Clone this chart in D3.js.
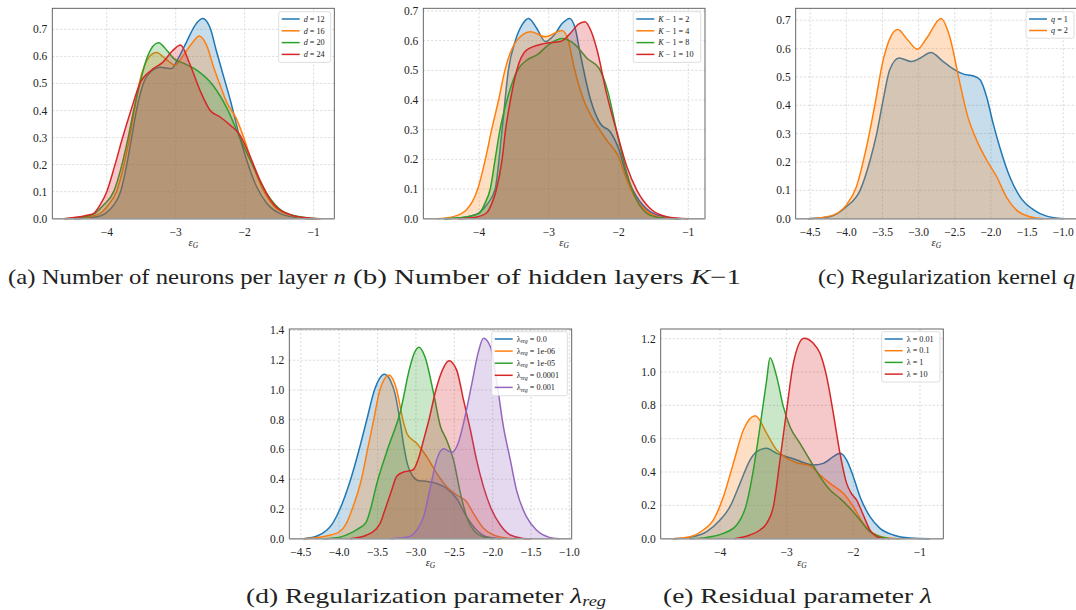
<!DOCTYPE html>
<html>
<head>
<meta charset="utf-8">
<script src="https://d3js.org/d3.v7.min.js"></script>
<style>
  body { margin: 0; background: #fff; }
  svg text { font-family: "Liberation Serif", "DejaVu Serif", serif; fill: #222; }
</style>
</head>
<body>
<svg width="1076" height="610" id="chart" font-family="Liberation Serif, DejaVu Serif, serif"></svg>
<script>
const colors = ["#1f77b4", "#ff7f0e", "#2ca02c", "#d62728", "#9467bd"];

// (a) neurons per layer
const a_labels = ["12", "16", "20", "24"];
const a_d12 = [[-4.48,0],[-4.3,0.003],[-4.1,0.01],[-4.02,0.02],[-3.9,0.05],[-3.80,0.1],[-3.71,0.2],[-3.64,0.3],[-3.57,0.4],[-3.47,0.5],[-3.33,0.55],[-3.23,0.56],[-3.06,0.555],[-2.97,0.59],[-2.85,0.65],[-2.72,0.715],[-2.61,0.74],[-2.5,0.705],[-2.41,0.62],[-2.31,0.53],[-2.21,0.44],[-2.07,0.30],[-2.0,0.24],[-1.83,0.12],[-1.68,0.057],[-1.44,0.014],[-1.2,0.003],[-1.0,0]];
const a_d16 = [[-4.55,0],[-4.3,0.005],[-4.1,0.02],[-3.98,0.05],[-3.86,0.1],[-3.75,0.2],[-3.67,0.3],[-3.60,0.4],[-3.53,0.5],[-3.38,0.6],[-3.28,0.615],[-3.12,0.585],[-3.01,0.568],[-2.9,0.6],[-2.76,0.65],[-2.66,0.676],[-2.55,0.64],[-2.45,0.56],[-2.35,0.49],[-2.26,0.43],[-2.12,0.37],[-2.0,0.29],[-1.87,0.19],[-1.73,0.106],[-1.54,0.038],[-1.29,0.01],[-1.05,0]];
const a_d20 = [[-4.6,0],[-4.35,0.006],[-4.17,0.02],[-4.05,0.05],[-3.90,0.1],[-3.78,0.2],[-3.69,0.3],[-3.61,0.4],[-3.52,0.5],[-3.41,0.6],[-3.25,0.651],[-3.12,0.62],[-3.03,0.593],[-2.89,0.575],[-2.7,0.55],[-2.45,0.49],[-2.26,0.41],[-2.07,0.30],[-1.87,0.19],[-1.68,0.094],[-1.44,0.026],[-1.2,0.007],[-0.95,0]];
const a_d24 = [[-4.62,0],[-4.45,0.005],[-4.3,0.012],[-4.19,0.02],[-4.10,0.05],[-4.0,0.1],[-3.88,0.2],[-3.77,0.3],[-3.65,0.4],[-3.52,0.5],[-3.35,0.55],[-3.18,0.58],[-3.05,0.62],[-2.93,0.642],[-2.8,0.575],[-2.65,0.476],[-2.5,0.40],[-2.36,0.377],[-2.21,0.346],[-2.07,0.31],[-1.92,0.23],[-1.78,0.143],[-1.59,0.057],[-1.35,0.016],[-1.05,0.002],[-0.9,0]];

// (b) hidden layers
const b_labels = ["2", "4", "8", "10"];
const b_k2 = [[-4.5,0],[-4.27,0.003],[-4.1,0.01],[-4.0,0.02],[-3.88,0.05],[-3.77,0.1],[-3.67,0.3],[-3.58,0.5],[-3.48,0.6],[-3.38,0.655],[-3.29,0.675],[-3.17,0.64],[-3.05,0.597],[-2.92,0.62],[-2.8,0.66],[-2.70,0.675],[-2.62,0.64],[-2.55,0.557],[-2.40,0.40],[-2.26,0.32],[-2.12,0.293],[-1.99,0.23],[-1.88,0.14],[-1.74,0.074],[-1.55,0.024],[-1.31,0.005],[-1.1,0]];
const b_k4 = [[-4.61,0],[-4.37,0.007],[-4.18,0.03],[-4.02,0.1],[-3.91,0.2],[-3.82,0.3],[-3.72,0.4],[-3.63,0.5],[-3.46,0.6],[-3.26,0.63],[-3.05,0.613],[-2.81,0.634],[-2.72,0.6],[-2.64,0.512],[-2.50,0.40],[-2.36,0.333],[-2.17,0.265],[-2.0,0.209],[-1.88,0.13],[-1.74,0.063],[-1.55,0.018],[-1.35,0.003],[-1.15,0]];
const b_k8 = [[-4.5,0],[-4.27,0.003],[-4.0,0.018],[-3.92,0.05],[-3.84,0.1],[-3.77,0.2],[-3.70,0.3],[-3.60,0.4],[-3.45,0.5],[-3.31,0.535],[-3.17,0.552],[-2.98,0.59],[-2.81,0.607],[-2.64,0.59],[-2.45,0.54],[-2.28,0.507],[-2.16,0.434],[-2.02,0.288],[-1.88,0.153],[-1.74,0.063],[-1.55,0.012],[-1.35,0.002],[-1.15,0]];
const b_k10 = [[-4.3,0],[-4.05,0.005],[-3.89,0.02],[-3.82,0.05],[-3.75,0.1],[-3.67,0.2],[-3.62,0.3],[-3.55,0.4],[-3.46,0.5],[-3.32,0.568],[-3.07,0.59],[-2.83,0.597],[-2.69,0.625],[-2.58,0.655],[-2.48,0.664],[-2.39,0.63],[-2.31,0.57],[-2.17,0.42],[-2.02,0.288],[-1.88,0.175],[-1.74,0.097],[-1.55,0.035],[-1.31,0.007],[-1.0,0]];

// (c) regularization kernel
const c_labels = ["1", "2"];
const c_q1 = [[-4.53,0],[-4.23,0.007],[-4.0,0.042],[-3.81,0.10],[-3.67,0.207],[-3.58,0.30],[-3.49,0.42],[-3.40,0.525],[-3.27,0.567],[-3.10,0.554],[-2.98,0.566],[-2.83,0.586],[-2.66,0.554],[-2.5,0.525],[-2.38,0.51],[-2.24,0.503],[-2.15,0.49],[-2.06,0.43],[-1.97,0.336],[-1.88,0.254],[-1.74,0.148],[-1.60,0.078],[-1.41,0.031],[-1.23,0.009],[-1.0,0]];
const c_q2 = [[-4.5,0],[-4.23,0.009],[-4.0,0.048],[-3.86,0.113],[-3.72,0.254],[-3.61,0.395],[-3.49,0.56],[-3.38,0.645],[-3.29,0.667],[-3.15,0.63],[-3.02,0.598],[-2.88,0.64],[-2.69,0.706],[-2.57,0.642],[-2.43,0.478],[-2.32,0.36],[-2.20,0.278],[-2.06,0.207],[-1.92,0.148],[-1.79,0.078],[-1.65,0.031],[-1.46,0.007],[-1.28,0]];

// (d) regularization parameter
const d_labels = ["0.0", "1e-06", "1e-05", "0.0001", "0.001"];
const d_0 = [[-4.46,0],[-4.28,0.02],[-4.09,0.1],[-3.99,0.2],[-3.85,0.4],[-3.74,0.6],[-3.64,0.8],[-3.54,1.0],[-3.47,1.08],[-3.41,1.105],[-3.33,1.06],[-3.27,0.97],[-3.21,0.8],[-3.15,0.6],[-3.11,0.5],[-3.04,0.42],[-2.96,0.39],[-2.85,0.385],[-2.72,0.37],[-2.60,0.339],[-2.47,0.27],[-2.34,0.148],[-2.21,0.058],[-2.08,0.013],[-1.9,0]];
const d_1e6 = [[-4.47,0],[-4.15,0.02],[-3.99,0.05],[-3.91,0.1],[-3.83,0.2],[-3.71,0.4],[-3.63,0.6],[-3.55,0.8],[-3.47,1.0],[-3.35,1.1],[-3.25,1.0],[-3.17,0.8],[-3.11,0.7],[-2.99,0.642],[-2.86,0.552],[-2.73,0.44],[-2.60,0.35],[-2.47,0.294],[-2.34,0.249],[-2.25,0.17],[-2.12,0.07],[-1.99,0.025],[-1.82,0.005],[-1.7,0]];
const d_1e5 = [[-4.2,0],[-3.99,0.01],[-3.86,0.036],[-3.76,0.065],[-3.65,0.11],[-3.58,0.22],[-3.52,0.35],[-3.37,0.6],[-3.20,0.86],[-3.08,1.15],[-3.02,1.25],[-2.96,1.288],[-2.88,1.22],[-2.77,0.978],[-2.68,0.754],[-2.60,0.664],[-2.51,0.53],[-2.42,0.305],[-2.34,0.148],[-2.25,0.058],[-2.12,0.013],[-1.99,0]];
const d_1e4 = [[-3.86,0],[-3.64,0.025],[-3.47,0.1],[-3.40,0.2],[-3.32,0.32],[-3.25,0.42],[-3.15,0.45],[-3.04,0.462],[-2.96,0.55],[-2.90,0.664],[-2.83,0.8],[-2.74,1.0],[-2.64,1.15],[-2.57,1.196],[-2.47,1.135],[-2.38,0.933],[-2.29,0.731],[-2.21,0.53],[-2.12,0.35],[-2.03,0.215],[-1.90,0.092],[-1.77,0.025],[-1.60,0.002],[-1.5,0]];
const d_1e3 = [[-3.33,0],[-3.12,0.009],[-2.99,0.058],[-2.90,0.148],[-2.81,0.35],[-2.73,0.53],[-2.64,0.604],[-2.53,0.581],[-2.45,0.642],[-2.36,0.821],[-2.27,1.046],[-2.19,1.248],[-2.12,1.348],[-2.03,1.292],[-1.95,1.068],[-1.86,0.754],[-1.77,0.53],[-1.69,0.328],[-1.56,0.148],[-1.43,0.058],[-1.26,0.009],[-1.13,0]];

// (e) residual parameter
const e_labels = ["0.01", "0.1", "1", "10"];
const e_001 = [[-4.7,0],[-4.45,0.008],[-4.2,0.042],[-4.0,0.112],[-3.85,0.192],[-3.7,0.332],[-3.55,0.472],[-3.45,0.522],[-3.3,0.542],[-3.15,0.512],[-3.0,0.492],[-2.85,0.472],[-2.6,0.442],[-2.45,0.452],[-2.3,0.492],[-2.2,0.512],[-2.1,0.472],[-2.0,0.372],[-1.9,0.252],[-1.75,0.132],[-1.6,0.062],[-1.4,0.022],[-1.15,0.004],[-0.85,0]];
const e_01 = [[-4.7,0],[-4.45,0.012],[-4.25,0.052],[-4.1,0.112],[-3.95,0.252],[-3.8,0.452],[-3.65,0.652],[-3.47,0.738],[-3.3,0.632],[-3.15,0.532],[-3.0,0.482],[-2.85,0.456],[-2.65,0.438],[-2.5,0.382],[-2.35,0.332],[-2.15,0.272],[-2.0,0.192],[-1.85,0.092],[-1.7,0.032],[-1.5,0.006],[-1.3,0]];
const e_1 = [[-4.45,0],[-4.2,0.008],[-3.95,0.032],[-3.75,0.082],[-3.6,0.212],[-3.5,0.412],[-3.4,0.672],[-3.3,0.952],[-3.25,1.086],[-3.15,0.972],[-3.05,0.792],[-2.95,0.672],[-2.8,0.572],[-2.65,0.472],[-2.5,0.372],[-2.35,0.292],[-2.2,0.242],[-2.05,0.182],[-1.9,0.112],[-1.75,0.042],[-1.6,0.012],[-1.45,0]];
const e_10 = [[-3.78,0],[-3.55,0.022],[-3.4,0.052],[-3.3,0.092],[-3.2,0.192],[-3.1,0.472],[-3.0,0.772],[-2.9,1.052],[-2.74,1.202],[-2.6,1.172],[-2.5,1.112],[-2.4,0.972],[-2.3,0.752],[-2.2,0.512],[-2.1,0.332],[-2.03,0.272],[-1.95,0.232],[-1.85,0.142],[-1.75,0.052],[-1.65,0.012],[-1.55,0]];

const xTicksInt = [-4, -3, -2, -1];
const xTicksHalf = [-4.5, -4.0, -3.5, -3.0, -2.5, -2.0, -1.5, -1.0];

let svg = d3.select("#chart");

const panels = [
  {left: 52.3, right: 334.3, top: 8.3, bottom: 218.7, xdom: [-4.79, -0.70], ymax: 0.778,
   xticks: xTicksInt, xfmt: "d", yticks: d3.range(0, 0.71, 0.1), yfmt: ".1f",
   series: [a_d12, a_d16, a_d20, a_d24], labels: a_labels, sym: "d",
   legend: {x: 278.7, y: 11.7, w: 52, rows: 11.8},
   caption: {x: 8, y: 284, w: 338, parts: [["(a) Number of neurons per layer ", ""], ["n", "i"]]}},
  {left: 423.3, right: 705, top: 8.3, bottom: 218.7, xdom: [-4.80, -0.76], ymax: 0.709,
   xticks: xTicksInt, xfmt: "d", yticks: d3.range(0, 0.71, 0.1), yfmt: ".1f",
   series: [b_k2, b_k4, b_k8, b_k10], labels: b_labels, sym: "K",
   legend: {x: 633.3, y: 11.7, w: 67.4, rows: 11.8},
   caption: {x: 353, y: 284, w: 388, parts: [["(b) Number of hidden layers ", ""], ["K", "i"], ["\u22121", ""]]}},
  {left: 795.7, right: 1077, top: 8.3, bottom: 218.7, xdom: [-4.70, -0.81], ymax: 0.742,
   xticks: xTicksHalf, xfmt: ".1f", yticks: d3.range(0, 0.71, 0.1), yfmt: ".1f",
   series: [c_q1, c_q2], labels: c_labels, sym: "q",
   legend: {x: 1026, y: 11.7, w: 48, rows: 11.5},
   caption: {x: 818, y: 284, w: 257, parts: [["(c) Regularization kernel ", ""], ["q", "i"]]}},
  {left: 289.3, right: 571.7, top: 329, bottom: 538.7, xdom: [-4.65, -0.97], ymax: 1.41,
   xticks: xTicksHalf, xfmt: ".1f", yticks: d3.range(0, 1.41, 0.2), yfmt: ".1f",
   series: [d_0, d_1e6, d_1e5, d_1e4, d_1e3], labels: d_labels, sym: "lreg",
   legend: {x: 491.7, y: 331.7, w: 75.6, rows: 12.1},
   caption: {x: 246, y: 603, w: 360, parts: [["(d) Regularization parameter ", ""], ["\u03bb", "i"], ["reg", "s"]]}},
  {left: 660.7, right: 943.3, top: 329, bottom: 538.7, xdom: [-4.89, -0.65], ymax: 1.258,
   xticks: xTicksInt, xfmt: "d", yticks: d3.range(0, 1.21, 0.2), yfmt: ".1f",
   series: [e_001, e_01, e_1, e_10], labels: e_labels, sym: "l",
   legend: {x: 881.7, y: 331.7, w: 58.3, rows: 11.7},
   caption: {x: 663, y: 603, w: 269, parts: [["(e) Residual parameter ", ""], ["\u03bb", "i"]]}}
];

function legendText(sel, sym, val) {
  if (sym === "d" || sym === "q") {
    sel.append("tspan").attr("font-style", "italic").text(sym);
    sel.append("tspan").text(" = " + val);
  } else if (sym === "K") {
    sel.append("tspan").attr("font-style", "italic").text("K");
    sel.append("tspan").text(" \u2212 1 = " + val);
  } else if (sym === "lreg") {
    sel.append("tspan").text("\u03bb");
    sel.append("tspan").attr("font-size", 5.5).attr("dy", 1.5).attr("font-style", "italic").text("reg");
    sel.append("tspan").attr("dy", -1.5).text(" = " + val);
  } else {
    sel.append("tspan").text("\u03bb = " + val);
  }
}

panels.forEach(function(p) {
  let g = svg.append("g");
  let x = d3.scaleLinear().domain(p.xdom).range([p.left, p.right]);
  let y = d3.scaleLinear().domain([0, p.ymax]).range([p.bottom, p.top]);

  // grid
  g.selectAll("line.gx").data(p.xticks).join("line")
    .attr("x1", d => x(d)).attr("x2", d => x(d))
    .attr("y1", p.top).attr("y2", p.bottom)
    .attr("stroke", "#c8c8c8").attr("stroke-width", 0.7).attr("stroke-dasharray", "2,2");
  g.selectAll("line.gy").data(p.yticks).join("line")
    .attr("x1", p.left).attr("x2", p.right)
    .attr("y1", d => y(d)).attr("y2", d => y(d))
    .attr("stroke", "#c8c8c8").attr("stroke-width", 0.7).attr("stroke-dasharray", "2,2");

  let area = d3.area().x(d => x(d[0])).y0(y(0)).y1(d => y(d[1])).curve(d3.curveMonotoneX);
  let line = d3.line().x(d => x(d[0])).y(d => y(d[1])).curve(d3.curveMonotoneX);

  p.series.forEach(function(s, i) {
    g.append("path").datum(s).attr("d", area)
      .attr("fill", colors[i]).attr("fill-opacity", 0.25).attr("stroke", "none");
    g.append("path").datum(s).attr("d", line)
      .attr("fill", "none").attr("stroke", colors[i]).attr("stroke-width", 1.5);
  });

  // spines
  g.append("rect").attr("x", p.left).attr("y", p.top)
    .attr("width", p.right - p.left).attr("height", p.bottom - p.top)
    .attr("fill", "none").attr("stroke", "#555").attr("stroke-width", 0.9);
  g.append("line").attr("x1", p.left).attr("x2", p.right)
    .attr("y1", p.bottom).attr("y2", p.bottom)
    .attr("stroke", "#999").attr("stroke-width", 1.6);

  // tick labels
  let fx = d3.format(p.xfmt), fy = d3.format(p.yfmt);
  g.selectAll("text.xt").data(p.xticks).join("text")
    .attr("x", d => x(d)).attr("y", p.bottom + 17)
    .attr("text-anchor", "middle").attr("font-size", 11.5)
    .text(d => fx(d));
  g.selectAll("text.yt").data(p.yticks).join("text")
    .attr("x", p.left - 5).attr("y", d => y(d) + 4)
    .attr("text-anchor", "end").attr("font-size", 11.5)
    .text(d => fy(d));

  // x label
  let xl = g.append("text").attr("x", (p.left + p.right) / 2).attr("y", p.bottom + 27)
    .attr("text-anchor", "middle").attr("font-size", 10.5);
  xl.append("tspan").attr("font-style", "italic").text("\u03b5");
  xl.append("tspan").attr("font-size", 7.5).attr("dy", 2.5).attr("font-style", "italic").text("G");

  // legend
  let L = p.legend;
  let lg = g.append("g");
  lg.append("rect").attr("x", L.x).attr("y", L.y).attr("width", L.w)
    .attr("height", L.rows * p.series.length + 3.5).attr("rx", 2)
    .attr("fill", "#fff").attr("fill-opacity", 0.85).attr("stroke", "#d6d6d6").attr("stroke-width", 0.8);
  p.labels.forEach(function(v, i) {
    let yy = L.y + 7.3 + i * L.rows;
    lg.append("line").attr("x1", L.x + 3).attr("x2", L.x + 21).attr("y1", yy).attr("y2", yy)
      .attr("stroke", colors[i]).attr("stroke-width", 1.5);
    let t = lg.append("text").attr("x", L.x + 25).attr("y", yy + 2.7).attr("font-size", 8.2);
    legendText(t, p.sym, v);
  });

  // caption
  let C = p.caption;
  let ct = svg.append("text").attr("x", C.x).attr("y", C.y).attr("font-size", 21);
  C.parts.forEach(function(pt) {
    if (pt[1] === "i") ct.append("tspan").attr("font-style", "italic").text(pt[0]);
    else if (pt[1] === "s") ct.append("tspan").attr("font-style", "italic").attr("font-size", 14).attr("dy", 3).text(pt[0]);
    else ct.append("tspan").text(pt[0]);
  });
  ct.attr("textLength", C.w).attr("lengthAdjust", "spacingAndGlyphs");
});
</script>
</body>
</html>
